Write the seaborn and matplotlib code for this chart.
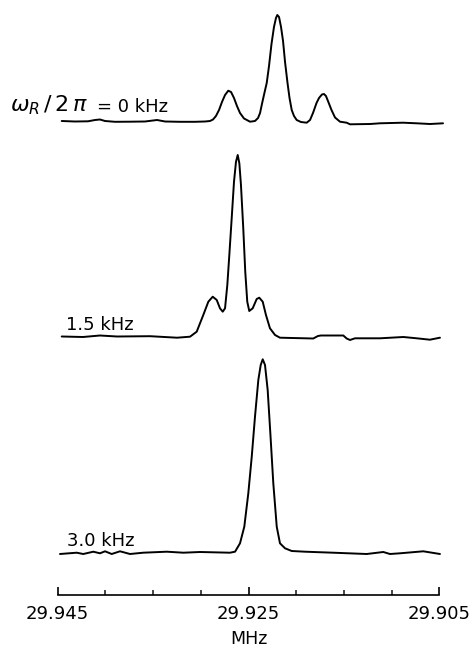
import numpy as np
import pandas as pd
import matplotlib
matplotlib.use('Agg')
import matplotlib.pyplot as plt
import seaborn as sns

# spectra: frequency (MHz) and height above each baseline (a.u.)
freq_0 = [29.94458, 29.94319, 29.94182, 29.94109, 29.94057, 29.94004, 29.93899, 29.93742,
          29.93585, 29.93459, 29.93375, 29.93218, 29.93061, 29.92956, 29.92904, 29.92872,
          29.92841, 29.92809, 29.92778, 29.92746, 29.92712, 29.92683, 29.92652, 29.92621,
          29.92589, 29.92547, 29.92484, 29.92432, 29.92400, 29.92379, 29.92359, 29.92338,
          29.92309, 29.92285, 29.92259, 29.92233, 29.92212, 29.92198, 29.92180, 29.92159,
          29.92138, 29.92117, 29.92091, 29.92070, 29.92047, 29.92023, 29.91995, 29.91950,
          29.91890, 29.91855, 29.91824, 29.91787, 29.91761, 29.91730, 29.91709, 29.91688,
          29.91667, 29.91630, 29.91593, 29.91541, 29.91471, 29.91436, 29.91226, 29.91122,
          29.90881, 29.90737, 29.90598, 29.90461]
amp_0 = [1.0, 0.5, 0.7, 2.0, 2.5, 1.0, 0.2, 0.3,
         0.5, 2.0, 0.5, 0.2, 0.2, 0.5, 1.0, 2.5,
         6, 12, 20, 27, 31.3, 30, 24, 16,
         9, 3.5, 0.3, 1, 4, 9, 18, 27,
         39, 56, 78, 95, 104, 107, 105, 95,
         81, 60, 39, 24, 12, 6, 2, 0,
         -0.7, 2, 9, 19, 24, 27.5, 28, 26,
         21, 12, 4.5, 0.3, -0.7, -2.3, -2, -1.3,
         -0.7, -1.3, -2, -1.3]

freq_15 = [29.94458, 29.94235, 29.94057, 29.93878, 29.93532, 29.93249, 29.93113, 29.93043,
           29.92974, 29.92921, 29.92875, 29.92833, 29.92799, 29.92770, 29.92746, 29.92722,
           29.92701, 29.92676, 29.92652, 29.92631, 29.92613, 29.92596, 29.92579, 29.92555,
           29.92534, 29.92513, 29.92492, 29.92456, 29.92414, 29.92387, 29.92351, 29.92317,
           29.92275, 29.92222, 29.92170, 29.91821, 29.91772, 29.91740, 29.91506, 29.91471,
           29.91436, 29.91384, 29.91122, 29.90877, 29.90737, 29.90598, 29.90493]
amp_15 = [0, -0.5, 1, 0, 0.3, -1.2, -0.2, 4.8,
          21.5, 34.8, 39.8, 36.5, 28.2, 24.8, 28.2, 51.5,
          81.5, 118.5, 154.8, 174.8, 181.5, 173.2, 151.5, 108.5,
          64.8, 34.8, 25.5, 28.2, 37.5, 38.8, 34.8, 21.5,
          8.2, 1.5, -1.2, -2, 0.5, 1, 1, -2,
          -3.5, -1.8, -1.8, -0.5, -1.8, -3.2, -1.2]

freq_30 = [29.94476, 29.94301, 29.94232, 29.94127, 29.94057, 29.94004, 29.93934, 29.93847,
           29.93742, 29.93603, 29.93357, 29.93183, 29.93008, 29.92694, 29.92641, 29.92589,
           29.92544, 29.92502, 29.92466, 29.92432, 29.92397, 29.92372, 29.92351, 29.92327,
           29.92299, 29.92271, 29.92240, 29.92204, 29.92170, 29.92117, 29.92047, 29.91908,
           29.91614, 29.91261, 29.91087, 29.91017, 29.90912, 29.90668, 29.90493]
amp_30 = [-1.5, -0.2, -1.5, 0.8, -0.8, 1.2, -1.5, 1.2,
          -1.5, -0.2, 0.8, -0.2, 0.5, -0.2, 0.8, 9.2,
          25.8, 59.2, 95.8, 135.8, 172.5, 187.5, 193.2, 187.5,
          162.5, 119.2, 69.2, 25.8, 9.2, 4.2, 1.5, 0.8,
          -0.2, -1.5, 0.5, -1.5, -0.8, 1.2, -1.5]

labels = ['= 0 kHz', '1.5 kHz', '3.0 kHz']
rate_symbol = r'$\omega_R\,/\,2\,\pi$'
major_ticks = [29.945, 29.925, 29.905]

W, H = 474, 647
offsets = [473, 258.5, 42.5]   # baseline heights (px above axis)

sns.set_theme(style='white')
plt.rcParams['font.family'] = ['DejaVu Sans']
plt.rcParams['mathtext.fontset'] = 'dejavusans'
plt.rcParams['text.color'] = 'black'
plt.rcParams['axes.labelcolor'] = 'black'

fig = plt.figure(figsize=(W / 100, H / 100), dpi=100)
ax = fig.add_axes([57.7 / W, (H - 595) / H, 381.6 / W, 595 / H])

traces = [(freq_0, amp_0), (freq_15, amp_15), (freq_30, amp_30)]
for (f, a), off in zip(traces, offsets):
    df = pd.DataFrame({'MHz': f, 'y': np.array(a) + off})
    sns.lineplot(data=df, x='MHz', y='y', ax=ax, color='black', lw=1.4,
                 estimator=None, sort=False, clip_on=False)

ax.set_xlim(29.945, 29.905)
ax.set_ylim(0, 595)
ax.set_xticks(major_ticks)
ax.set_xticklabels([f'{t:.3f}' for t in major_ticks])
ax.set_xticks(np.arange(29.905, 29.9451, 0.005), minor=True)
ax.tick_params(axis='x', which='major', direction='in', length=6, width=1.2,
               pad=7, labelsize=13, colors='black', bottom=True)
ax.tick_params(axis='x', which='minor', direction='in', length=3.5, width=1.2,
               bottom=True)
ax.set_yticks([])
ax.set_ylabel('')
ax.set_xlabel('MHz', fontsize=12.5, labelpad=5, color='black')
for side in ['top', 'left', 'right']:
    ax.spines[side].set_visible(False)
ax.spines['bottom'].set_linewidth(1.2)
ax.spines['bottom'].set_color('black')
ax.patch.set_alpha(0)

# trace labels (pixel positions of left edge / baseline)
fig.text(10 / W, 1 - 111.5 / H, rate_symbol, fontsize=16, ha='left', va='baseline')
label_pos = [(97, 111.5), (66, 330), (67, 546.5)]
for txt, (x, y) in zip(labels, label_pos):
    fig.text(x / W, 1 - y / H, txt, fontsize=13, ha='left', va='baseline')

fig.savefig('out.png', dpi=100)
